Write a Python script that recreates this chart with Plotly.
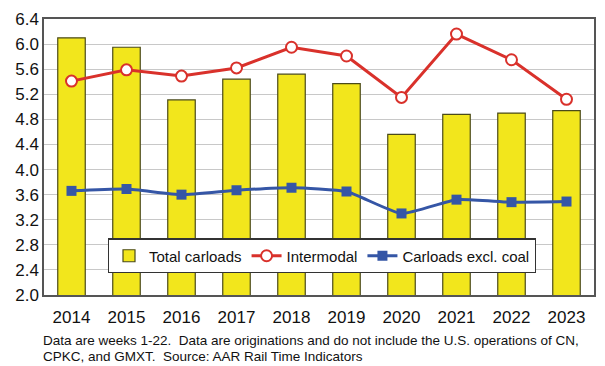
import plotly.graph_objects as go

years = ["2014", "2015", "2016", "2017", "2018", "2019", "2020", "2021", "2022", "2023"]
total_carloads = [6.10, 5.95, 5.11, 5.44, 5.52, 5.37, 4.56, 4.88, 4.90, 4.94]
intermodal = [5.41, 5.59, 5.49, 5.62, 5.95, 5.81, 5.15, 6.16, 5.75, 5.12]
carloads_excl_coal = [3.66, 3.69, 3.60, 3.67, 3.71, 3.65, 3.30, 3.52, 3.48, 3.49]
y_ticks = [2.0, 2.4, 2.8, 3.2, 3.6, 4.0, 4.4, 4.8, 5.2, 5.6, 6.0, 6.4]
footnote_lines = [
    "Data are weeks 1-22.  Data are originations and do not include the U.S. operations of CN,",
    "CPKC, and GMXT.  Source: AAR Rail Time Indicators",
]

fig = go.Figure()
fig.add_trace(go.Bar(
    x=years, y=total_carloads, name="Total carloads",
    marker=dict(color="#f2e61c", line=dict(color="#4a4a1a", width=1.2)),
    width=0.5,
))
fig.add_trace(go.Scatter(
    x=years, y=intermodal, name="Intermodal", mode="lines+markers",
    line=dict(color="#d9312b", width=3),
    marker=dict(symbol="circle", size=11, color="white", line=dict(color="#d9312b", width=2)),
))
fig.add_trace(go.Scatter(
    x=years, y=carloads_excl_coal, name="Carloads excl. coal", mode="lines+markers",
    line=dict(color="#3556a6", width=3, shape="spline", smoothing=0.5),
    marker=dict(symbol="square", size=10, color="#3556a6"),
))

fig.update_layout(
    width=605, height=366,
    margin=dict(l=44, r=11, t=19, b=71, autoexpand=False),
    paper_bgcolor="white", plot_bgcolor="white",
    font=dict(family="Arial, Liberation Sans, sans-serif", color="#111111"),
    showlegend=True,
    legend=dict(
        orientation="h", x=0.116, y=0.142, xanchor="left", yanchor="middle",
        bgcolor="white", bordercolor="#333333", borderwidth=1.2,
        font=dict(size=15), itemwidth=30, traceorder="normal",
    ),
    bargap=0.5,
)
fig.update_xaxes(
    type="category", range=[-0.5, len(years) - 0.5],
    showline=True, linecolor="#555555", linewidth=1.5, mirror=True,
    ticks="", tickfont=dict(size=17), ticklabelstandoff=6,
    showgrid=False, automargin=False,
)
fig.update_yaxes(
    range=[2.0, 6.4], tickvals=y_ticks, ticktext=[f"{v:.1f}" for v in y_ticks],
    showline=True, linecolor="#555555", linewidth=1.5, mirror=True,
    showgrid=True, gridcolor="#c8c8c8", gridwidth=1.2, ticks="",
    tickfont=dict(size=17), zeroline=False, automargin=False,
)
for line, yy in zip(footnote_lines, [-0.1649, -0.2246]):
    fig.add_annotation(
        text=line, xref="paper", yref="paper", x=-0.003, y=yy,
        xanchor="left", yanchor="middle", showarrow=False, align="left",
        borderpad=0, font=dict(size=13.5, color="#111111"),
    )
fig.write_html(
    "out.html",
    config={"displayModeBar": False},
    post_script="document.body.style.margin='0px';document.body.style.overflow='hidden';",
)
